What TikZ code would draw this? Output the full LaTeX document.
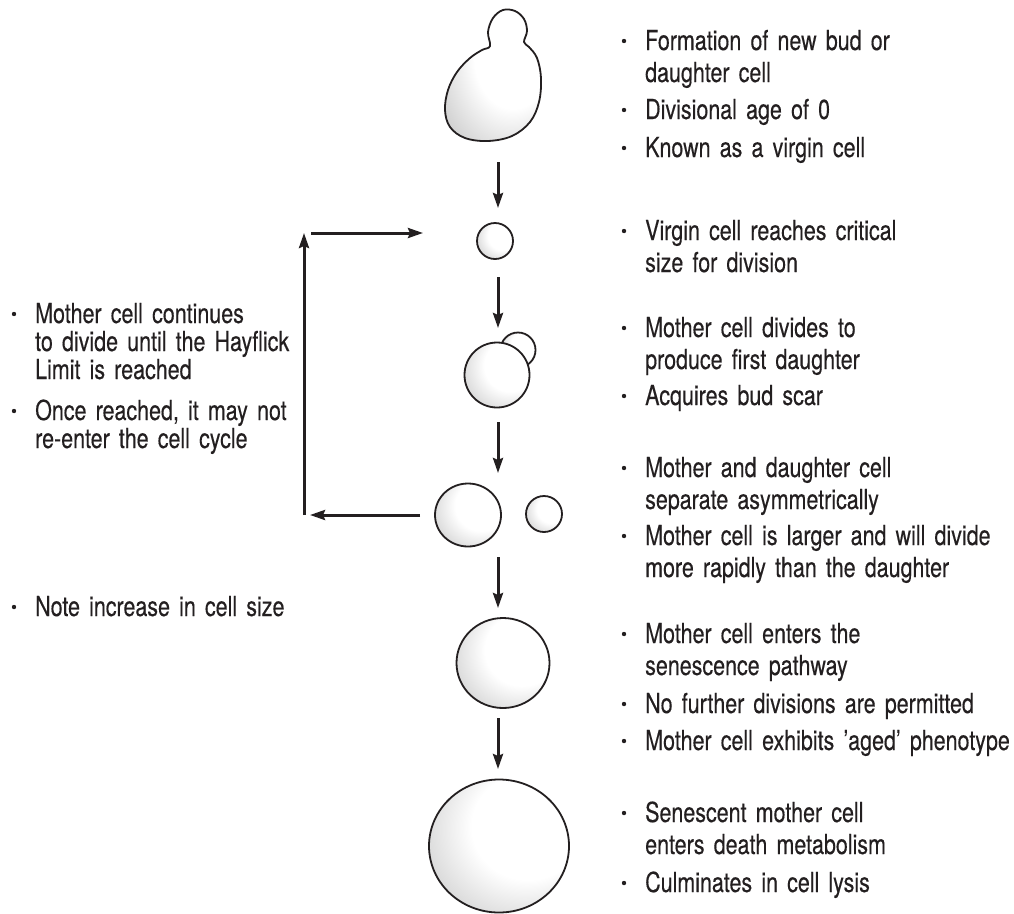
\documentclass[tikz,border=0pt]{standalone}
\usepackage{fontspec}
\setmainfont{TeX Gyre Heros}[FakeStretch=0.78,FakeBold=0.35]
\usepackage{tikz}
\usetikzlibrary{arrows.meta}
\usetikzlibrary{shapes.geometric}

\definecolor{ink}{HTML}{231F20}

% soft light from the upper right, grey towards the lower left rim
\pgfdeclareradialshading{cellshade}{\pgfpoint{14bp}{10bp}}{%
  color(0bp)=(white); color(20bp)=(white); color(38bp)=(black!18);
  color(50bp)=(black!38); color(62bp)=(black!55); color(75bp)=(black!60)}

\tikzset{
  cell/.style={draw=ink, line width=1.8pt, shading=cellshade, inner sep=0pt},
  flow/.style={draw=ink, line width=3pt,
    -{Stealth[length=15pt,width=10pt,inset=2pt]}},
  note/.style={anchor=base west, inner sep=0pt, text width=420pt,
    align=left, text=ink, font=\fontsize{27.5}{32}\selectfont},
  leftnote/.style={note, font=\fontsize{27.5}{28}\selectfont},
}

\begin{document}
\begin{tikzpicture}[x=1pt,y=-1pt]
\useasboundingbox (0,0) rectangle (1014,913);

% budding virgin cell
\draw[cell] plot[smooth cycle, tension=0.6] coordinates {
  (490,46) (488,32) (493,18) (503,10) (515,11) (524,19) (527,31) (524,42)
  (529,47) (537,58) (541,78) (539,102) (530,122) (512,136) (488,141)
  (465,138) (450,127) (445,110) (448,90) (457,72) (470,58) (482,50)};
\coordinate (c1) at (492,93);

% virgin cell
\node[cell, circle, minimum size=36pt] (c2) at (495,241) {};

% first division, bud behind the mother
\node[cell, circle, minimum size=35pt] (c3d) at (518,350) {};
\node[cell, circle, minimum size=65pt] (c3m) at (497,375) {};

% asymmetric separation
\node[cell, ellipse, minimum width=66pt, minimum height=63pt] (c4m) at (468,515) {};
\node[cell, circle, minimum size=36pt] (c4d) at (544,514) {};

% senescent cells
\node[cell, ellipse, minimum width=93pt, minimum height=90pt] (c5) at (503,663) {};
\node[cell, ellipse, minimum width=140pt, minimum height=133pt] (c6) at (499,846) {};

% arrows down the column
\foreach \n/\a/\b in {1/162/208, 2/277/328, 3/422/473, 4/557/608, 5/718/769}{
  \coordinate (from\n) at (498,\a);
  \coordinate (to\n) at (498,\b);
  \draw[flow] (from\n) -- (to\n);
}

% back into the cycle
\coordinate (turnlow) at (304,515);
\coordinate (turnhigh) at (304,233);
\coordinate (backin) at (423,233);
\draw[flow, shorten <=14pt, shorten >=6pt] (c4m.west) -- (turnlow);
\draw[flow] (turnlow) -- (turnhigh);
\draw[flow, shorten <=7pt] (turnhigh) -- (backin);

% notes on the right
\draw (645,50) node[note] (r1) {Formation of new bud or\\daughter cell};
\draw (645,119) node[note] (r2) {Divisional age of 0};
\draw (645,157) node[note] (r3) {Known as a virgin cell};
\draw (645,240) node[note] (r4) {Virgin cell reaches critical\\size for division};
\draw (645,337) node[note] (r5) {Mother cell divides to\\produce first daughter};
\draw (645,405) node[note] (r6) {Acquires bud scar};
\draw (645,477) node[note] (r7) {Mother and daughter cell\\separate asymmetrically};
\draw (645,545) node[note] (r8) {Mother cell is larger and will divide\\more rapidly than the daughter};
\draw (645,643) node[note] (r9) {Mother cell enters the\\senescence pathway};
\draw (645,713) node[note] (r10) {No further divisions are permitted};
\draw (645,750) node[note] (r11) {Mother cell exhibits 'aged' phenotype};
\draw (645,822) node[note] (r12) {Senescent mother cell\\enters death metabolism};
\draw (645,892) node[note] (r13) {Culminates in cell lysis};

% notes on the left
\draw (35,323) node[leftnote] (l1) {Mother cell continues\\to divide until the Hayflick\\Limit is reached};
\draw (35,420) node[leftnote] (l2) {Once reached, it may not\\re-enter the cell cycle};
\draw (35,616) node[leftnote] (l3) {Note increase in cell size};

% bullets
\foreach \n in {r1,r2,r3,r4,r5,r6,r7,r8,r9,r10,r11,r12,r13,l1,l2,l3}
  \fill[ink] ([xshift=-21pt,yshift=9pt]\n.base west) circle (2.2pt);
\end{tikzpicture}
\end{document}
